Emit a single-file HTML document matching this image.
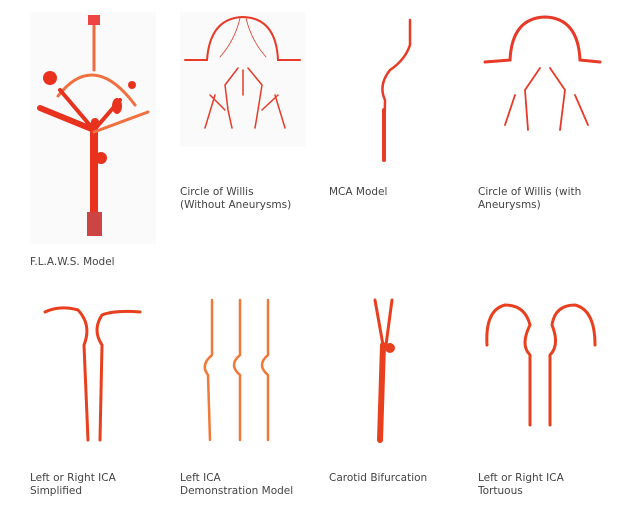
<!DOCTYPE html>
<html><head><meta charset="utf-8"><style>
body{margin:0;width:621px;height:518px;background:#fff;position:relative;overflow:hidden;font-family:"DejaVu Sans","Liberation Sans",sans-serif;font-size:10.5px;color:#444;line-height:13px}
.t{position:absolute}
svg{position:absolute;left:0;top:0}
</style></head><body>
<svg width="621" height="518" viewBox="0 0 621 518">
<rect x="30" y="12" width="126" height="232" fill="#fafafa"/>
<rect x="180" y="12" width="125" height="135" fill="#fafafa"/>
<g fill="none" stroke-linecap="round">
<!-- FLAWS -->
<g stroke="#e8321e">
<line x1="94" y1="22" x2="94" y2="70" stroke="#f06a40" stroke-width="3"/>
<path d="M58 96 Q94 50 135 105" stroke="#f07040" stroke-width="3"/>
<line x1="94" y1="125" x2="94" y2="225" stroke-width="8"/>
<line x1="94" y1="130" x2="40" y2="108" stroke-width="6"/>
<line x1="94" y1="130" x2="60" y2="90" stroke-width="4"/>
<line x1="94" y1="130" x2="120" y2="100" stroke-width="4"/>
<line x1="94" y1="132" x2="148" y2="112" stroke="#f07040" stroke-width="3"/>
</g>
<g fill="#e8321e" stroke="none">
<circle cx="50" cy="78" r="7"/><circle cx="132" cy="85" r="4"/><ellipse cx="117" cy="106" rx="5" ry="8"/>
<circle cx="101" cy="158" r="6"/><circle cx="95" cy="122" r="4"/>
<rect x="88" y="15" width="12" height="10" fill="#e44"/><rect x="87" y="212" width="15" height="24" fill="#c44"/>
</g>
<!-- Circle of Willis 1 -->
<g stroke="#e83a28" stroke-width="2">
<path d="M185 60 L207 60 Q210 18 243 17 Q276 18 278 60 L300 60"/>
<path d="M238 68 L225 85 L228 110 L232 128 M248 68 L262 85 L258 110 L255 128 M243 70 L243 95 M215 95 L205 128 M275 95 L285 128 M210 95 L225 110 M278 95 L262 110" stroke-width="1.5"/>
<path d="M220 57 Q235 40 240 18 M266 57 Q251 40 246 18" stroke-width="0.8"/>
</g>
<!-- MCA -->
<g stroke="#e83a28"><path d="M410 20 L410 45 Q405 60 390 70 Q378 85 385 100 L384 160" stroke-width="2.5"/><line x1="384" y1="110" x2="384" y2="160" stroke-width="4"/></g>
<!-- Circle of Willis 2 -->
<rect x="478" y="12" width="125" height="135" fill="none" stroke="none"/>
<g stroke="#e83a28" stroke-width="3"><path d="M485 62 L510 60 Q512 18 545 17 Q578 18 580 60 L600 62"/>
<path d="M540 68 L525 90 L528 130 M550 68 L565 90 L560 130 M515 95 L505 125 M575 95 L588 125" stroke-width="1.8"/></g>
<!-- row 2 -->
<g stroke="#e8401e" stroke-width="3">
<path d="M45 312 Q60 305 78 310 Q92 325 84 345 L88 440"/>
<path d="M140 312 Q115 310 102 315 Q92 330 102 345 L100 440"/>
<path d="M212 300 L212 355 Q200 365 208 375 L210 440" stroke="#f07838" stroke-width="2.5"/>
<path d="M240 300 L240 355 Q228 365 240 375 L240 440" stroke="#f07838" stroke-width="2.5"/>
<path d="M268 300 L268 355 Q256 365 268 375 L268 440" stroke="#f07838" stroke-width="2.5"/>
<path d="M375 300 L383 345 M392 300 L386 345"/>
<path d="M383 345 L380 440" stroke-width="6"/>
<path d="M487 345 Q485 310 505 305 Q525 305 530 325 Q520 345 530 355 L530 425"/>
<path d="M595 345 Q595 310 575 305 Q555 305 552 325 Q560 345 550 355 L550 425"/>
</g>
<circle cx="390" cy="348" r="5" fill="#e8401e"/>
</g>
</svg>
<div class="t" style="left:30px;top:256px">F.L.A.W.S. Model</div>
<div class="t" style="left:180px;top:186px">Circle of Willis<br>(Without Aneurysms)</div>
<div class="t" style="left:329px;top:186px">MCA Model</div>
<div class="t" style="left:478px;top:186px">Circle of Willis (with<br>Aneurysms)</div>
<div class="t" style="left:30px;top:472px">Left or Right ICA<br>Simplified</div>
<div class="t" style="left:180px;top:472px">Left ICA<br>Demonstration Model</div>
<div class="t" style="left:329px;top:472px">Carotid Bifurcation</div>
<div class="t" style="left:478px;top:472px">Left or Right ICA<br>Tortuous</div>
</body></html>
